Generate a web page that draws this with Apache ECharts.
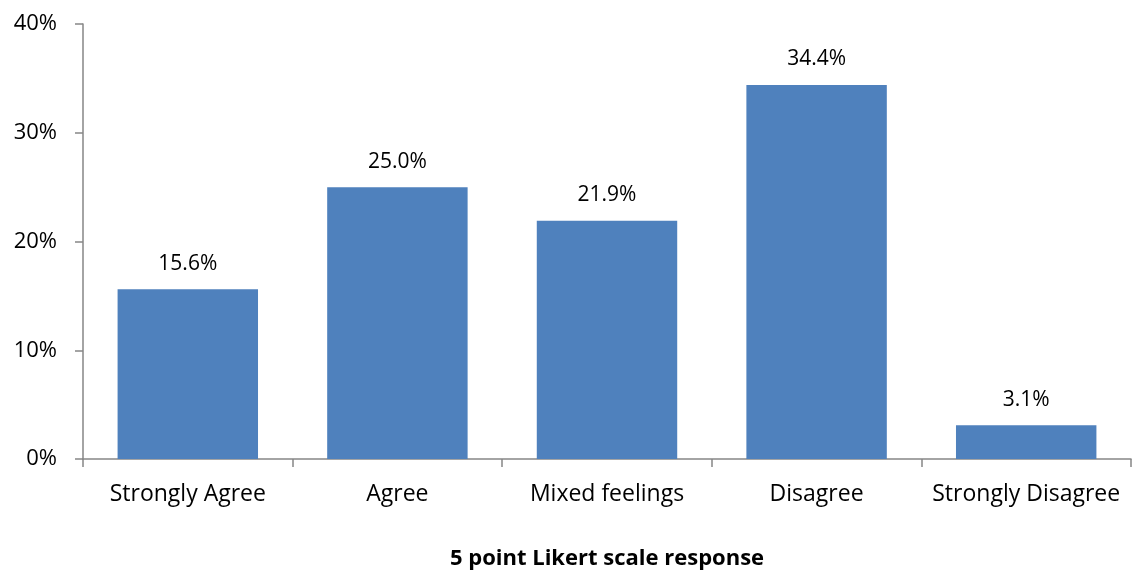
<!DOCTYPE html>
<html><head><meta charset="utf-8">
<script src="https://cdn.jsdelivr.net/npm/echarts@6/dist/echarts.min.js"></script>
<style>html,body{margin:0;padding:0;background:#fff}#c{width:1133px;height:572px}</style>
</head><body><div id="c"></div>
<script>
const categories = ["Strongly Agree", "Agree", "Mixed feelings", "Disagree", "Strongly Disagree"];
const values = [15.6, 25.0, 21.9, 34.4, 3.1];
const axisTitle = "5 point Likert scale response";
const FONT = "Open Sans";
const chart = echarts.init(document.getElementById('c'), null, {renderer: 'canvas'});
chart.setOption({
  animation: false,
  grid: {left: 83, right: 2, top: 24, bottom: 113, containLabel: false, outerBoundsMode: 'none'},
  xAxis: {
    type: 'category', data: categories,
    name: axisTitle, nameLocation: 'middle', nameGap: 89,
    nameTextStyle: {fontFamily: FONT, fontWeight: 'bold', fontSize: 22, color: '#000'},
    axisLine: {lineStyle: {color: '#868686', width: 1.5}},
    axisTick: {show: true, interval: 0, length: 8, lineStyle: {color: '#868686', width: 1.5}},
    axisLabel: {interval: 0, fontFamily: FONT, fontSize: 23, color: '#000', margin: 24}
  },
  yAxis: {
    type: 'value', min: 0, max: 40, interval: 10,
    axisLine: {show: true, lineStyle: {color: '#868686', width: 1.5}},
    axisTick: {show: true, length: 8, lineStyle: {color: '#868686', width: 1.5}},
    splitLine: {show: false},
    axisLabel: {fontFamily: FONT, fontSize: 22, color: '#000', margin: 26, formatter: v => v + '%'}
  },
  series: [{
    type: 'bar', data: values, barCategoryGap: '33%',
    itemStyle: {color: '#4f81bd'},
    label: {show: true, position: 'top', distance: 15, fontFamily: FONT, fontSize: 21, color: '#000',
      formatter: p => p.value.toFixed(1) + '%'}
  }]
});
</script></body></html>
